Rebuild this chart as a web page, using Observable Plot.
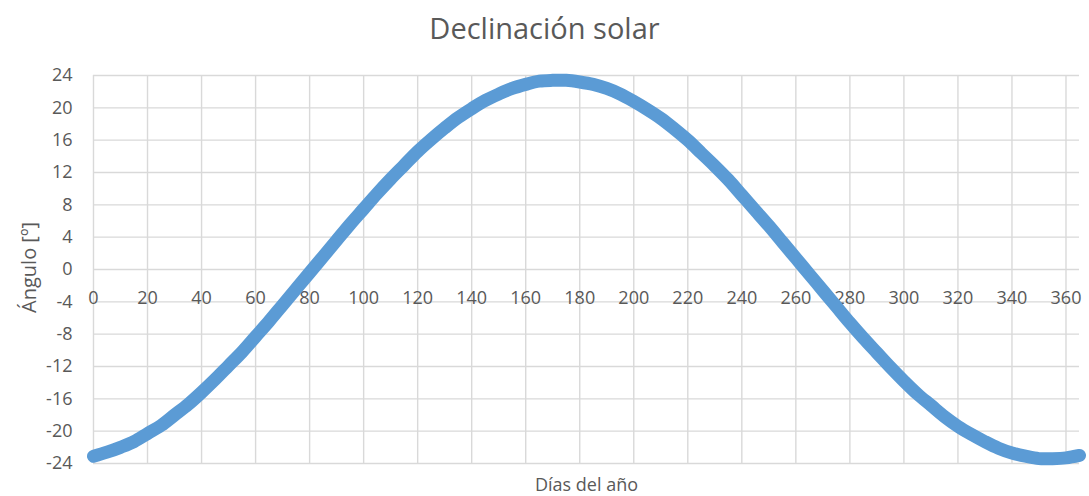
<!DOCTYPE html>
<html>
<head>
<meta charset="utf-8">
<script src="https://cdn.jsdelivr.net/npm/d3@7"></script>
<script src="https://cdn.jsdelivr.net/npm/@observablehq/plot@0.6"></script>
<style>
  html, body { margin: 0; padding: 0; background: #ffffff; }
  #wrap { width: 1089px; height: 496px; font-family: "Open Sans", sans-serif; }
  #title { height: 50px; line-height: 56px; text-align: center; font-size: 29px; color: #595959; }
</style>
</head>
<body>
<div id="wrap">
  <div id="title">Declinación solar</div>
  <div id="chart"></div>
</div>
<script>
const titleText = "Declinación solar";
const xLabel = "Días del año";
const yLabel = "Ángulo [º]";

const xTicks = [0, 20, 40, 60, 80, 100, 120, 140, 160, 180, 200, 220, 240, 260, 280, 300, 320, 340, 360];
const yTicks = [-24, -20, -16, -12, -8, -4, 0, 4, 8, 12, 16, 20, 24];

const days = [0, 5, 10, 15, 20, 25, 30, 35, 40, 45, 50, 55, 60, 65, 70, 75, 80, 85, 90, 95,
  100, 105, 110, 115, 120, 125, 130, 135, 140, 145, 150, 155, 160, 165, 170, 175, 180, 185, 190, 195,
  200, 205, 210, 215, 220, 225, 230, 235, 240, 245, 250, 255, 260, 265, 270, 275, 280, 285, 290, 295,
  300, 305, 310, 315, 320, 325, 330, 335, 340, 345, 350, 355, 360, 365];
const declination = [-23.1, -22.6, -22.0, -21.3, -20.3, -19.3, -18.0, -16.7, -15.2, -13.6, -11.9, -10.2, -8.3, -6.4, -4.4, -2.4, -0.4, 1.6, 3.6, 5.6,
  7.5, 9.4, 11.2, 12.9, 14.6, 16.1, 17.5, 18.8, 19.9, 20.9, 21.7, 22.4, 22.9, 23.3, 23.4, 23.4, 23.2, 22.9, 22.4, 21.7,
  20.8, 19.8, 18.7, 17.4, 16.0, 14.4, 12.8, 11.1, 9.2, 7.3, 5.4, 3.4, 1.4, -0.6, -2.6, -4.6, -6.6, -8.5, -10.3, -12.1,
  -13.8, -15.4, -16.8, -18.2, -19.4, -20.4, -21.3, -22.1, -22.7, -23.1, -23.4, -23.4, -23.3, -23.0];

const data = days.map((d, i) => ({day: d, angle: declination[i]}));

const gridColor = "#d9d9d9";
const textColor = "#595959";

const chart = Plot.plot({
  width: 1089,
  height: 446,
  marginTop: 25,
  marginBottom: 33,
  marginLeft: 93,
  marginRight: 10,
  style: {fontFamily: "Open Sans, sans-serif", background: "transparent"},
  x: {domain: [0, 365], axis: null},
  y: {domain: [-24, 24], axis: null},
  marks: [
    Plot.gridX(xTicks, {stroke: gridColor, strokeOpacity: 1, strokeWidth: 1.4}),
    Plot.gridY(yTicks, {stroke: gridColor, strokeOpacity: 1, strokeWidth: 1.4}),
    Plot.axisY(yTicks, {tickSize: 0, tickPadding: 21, fontSize: 18, fill: textColor, label: null, tickFormat: d => String(d)}),
    Plot.text(xTicks, {x: d => d, y: 0, dy: 29, text: d => String(d), fontSize: 18, fill: textColor}),
    Plot.line(data, {x: "day", y: "angle", stroke: "#5b9bd5", strokeWidth: 13, curve: "catmull-rom", strokeLinecap: "round", strokeLinejoin: "round"}),
    Plot.text([xLabel], {frameAnchor: "bottom", lineAnchor: "middle", textAnchor: "middle", dy: 22, text: d => d, fontSize: 18, fill: textColor}),
    Plot.text([yLabel], {frameAnchor: "left", textAnchor: "middle", lineAnchor: "middle", dx: -64, dy: -2, rotate: -90, text: d => d, fontSize: 20, fill: textColor})
  ]
});
document.getElementById("chart").appendChild(chart);
</script>
</body>
</html>
